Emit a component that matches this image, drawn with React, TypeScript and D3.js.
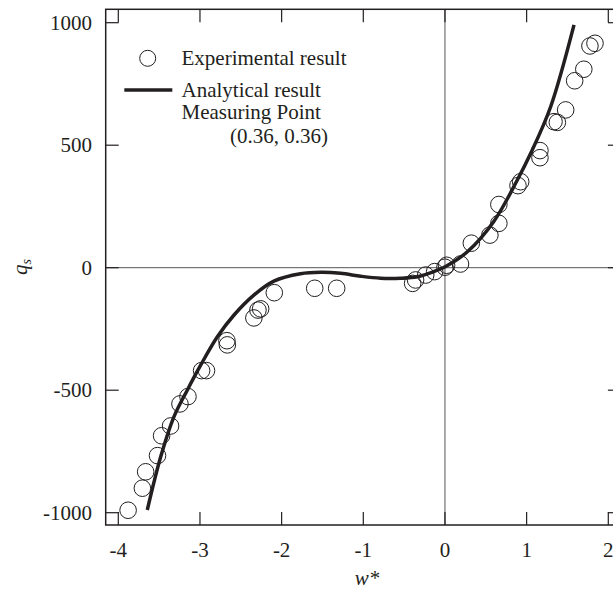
import React from "react";
import * as d3 from "d3";

// Experimental result (w*, q_s)
const expW = [-3.88, -3.705, -3.665, -3.52, -3.47, -3.36, -3.245, -3.147, -2.98, -2.92, -2.67, -2.665, -2.34, -2.29, -2.257, -2.09, -1.595, -1.326,
  -0.396, -0.36, -0.236, -0.126, 0.0, 0.02, 0.19, 0.323, 0.55, 0.66, 0.66, 0.894, 0.927, 1.163, 1.163, 1.335, 1.376, 1.478, 1.588, 1.70, 1.775, 1.837];
const expQ = [-990, -900, -833, -767, -686, -646, -556, -526, -420, -420, -298, -315, -205, -173, -168, -102, -84, -84,
  -64, -50, -30, -16, 2, 10, 15, 100, 133, 181, 258, 335, 351, 449, 478, 596, 593, 644, 763, 810, 905, 916];

// Analytical result curve (w*, q_s)
const anaW = [-3.645, -3.48, -3.318, -3.154, -2.99, -2.787, -2.583, -2.34, -2.095, -1.77, -1.52, -1.277, -1.03, -0.788, -0.543, -0.338, -0.135, 0.009, 0.274, 0.6, 0.886, 1.05, 1.294, 1.58];
const anaQ = [-989, -771, -608, -499, -397, -282, -193, -112, -55, -25, -19, -23, -35, -43, -43, -37, -16, 5, 65, 190, 358, 467, 657, 991];

const xTicks = [-4, -3, -2, -1, 0, 1, 2];
const yTicks = [-1000, -500, 0, 500, 1000];

const W = 613;
const H = 592;
const INK = "#231f20";
const FONT = "'Liberation Serif', 'Times New Roman', serif";
const FS = 21;

export default function App() {
  const x = d3.scaleLinear().domain([-4, 2]).range([118.3, 608.3]);
  const y = d3.scaleLinear().domain([-1000, 1000]).range([512.7, 22.7]);
  const left = x(-4) - 12.6;
  const right = x(2) + 12.6;
  const top = y(1000) - 13.4;
  const bottom = y(-1000) + 12.3;
  const tickLen = 13;

  const line = d3
    .line<[number, number]>()
    .x((d) => x(d[0]))
    .y((d) => y(d[1]))
    .curve(d3.curveCatmullRom.alpha(0.5));
  const curvePts: [number, number][] = anaW.map((w, i) => [w, anaQ[i]]);

  return (
    <svg width={W} height={H} style={{ position: "absolute", left: 0, top: 0, background: "#fff" }}>
      <defs>
        <clipPath id="plotclip">
          <rect x={left} y={top} width={right - left} height={bottom - top} />
        </clipPath>
      </defs>
      {/* zero lines */}
      <line x1={x(0)} x2={x(0)} y1={top} y2={bottom} stroke="#555" strokeWidth={1} />
      <line x1={left} x2={right} y1={y(0)} y2={y(0)} stroke="#555" strokeWidth={1} />
      {/* frame */}
      <rect x={left} y={top} width={right - left} height={bottom - top} fill="none" stroke={INK} strokeWidth={1.5} />
      {/* x ticks */}
      {xTicks.map((t) => (
        <g key={"xt" + t}>
          <line x1={x(t)} x2={x(t)} y1={bottom} y2={bottom - tickLen} stroke={INK} strokeWidth={1.2} />
          <line x1={x(t)} x2={x(t)} y1={top} y2={top + tickLen} stroke={INK} strokeWidth={1.2} />
          <text x={x(t)} y={557} textAnchor="middle" fontFamily={FONT} fontSize={FS} fill={INK}>
            {t}
          </text>
        </g>
      ))}
      {/* y ticks */}
      {yTicks.map((t) => (
        <g key={"yt" + t}>
          <line x1={left} x2={left + tickLen} y1={y(t)} y2={y(t)} stroke={INK} strokeWidth={1.2} />
          <line x1={right} x2={right - tickLen} y1={y(t)} y2={y(t)} stroke={INK} strokeWidth={1.2} />
          <text x={92} y={y(t) + 7} textAnchor="end" fontFamily={FONT} fontSize={FS} fill={INK}>
            {t}
          </text>
        </g>
      ))}
      {/* axis titles */}
      <text x={367} y={585} textAnchor="middle" fontFamily={FONT} fontSize={FS} fontStyle="italic" fill={INK}>
        w*
      </text>
      <text transform={`translate(27,${267}) rotate(-90)`} textAnchor="middle" fontFamily={FONT} fontSize={FS} fontStyle="italic" fill={INK}>
        q<tspan fontSize={14} dy={4}>s</tspan>
      </text>
      {/* data */}
      <g clipPath="url(#plotclip)">
        <path d={line(curvePts) || ""} fill="none" stroke={INK} strokeWidth={3.5} />
        {expW.map((w, i) => (
          <circle key={"c" + i} cx={x(w)} cy={y(expQ[i])} r={8.3} fill="none" stroke={INK} strokeWidth={1} />
        ))}
      </g>
      {/* legend */}
      <circle cx={147.7} cy={58.3} r={8} fill="none" stroke={INK} strokeWidth={1} />
      <text x={181.5} y={64.5} fontFamily={FONT} fontSize={FS} fill={INK}>Experimental result</text>
      <line x1={124.3} x2={172.3} y1={90} y2={90} stroke={INK} strokeWidth={3.5} />
      <text x={181.5} y={97} fontFamily={FONT} fontSize={FS} fill={INK}>Analytical result</text>
      <text x={181.5} y={119} fontFamily={FONT} fontSize={FS} fill={INK}>Measuring Point</text>
      <text x={230} y={142.5} fontFamily={FONT} fontSize={FS} fill={INK}>(0.36, 0.36)</text>
    </svg>
  );
}
